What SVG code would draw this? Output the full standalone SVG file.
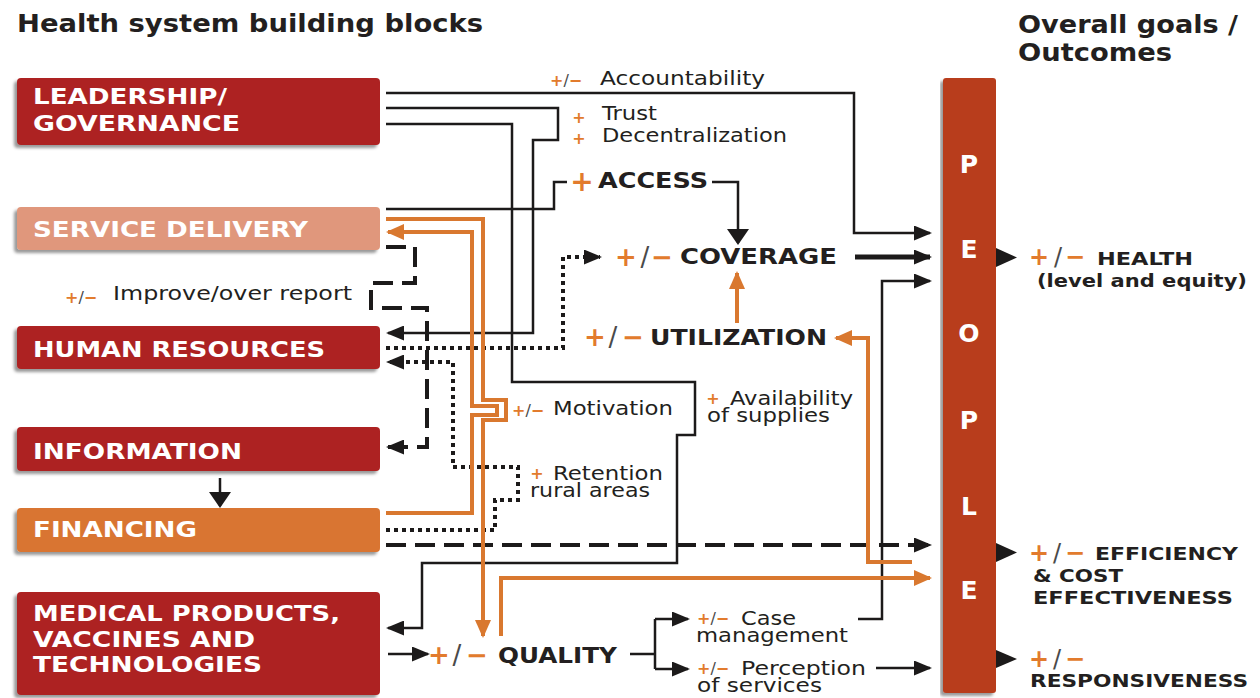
<svg xmlns="http://www.w3.org/2000/svg" width="1260" height="698" viewBox="0 0 1260 698">
<defs>
<style>
.t{font-family:'DejaVu Sans','Liberation Sans',sans-serif;fill:#231f20}
.h{font-size:24px;font-weight:bold}
.bl{font-size:22px;font-weight:bold;fill:#fff}
.pl{font-size:25px;font-weight:bold;fill:#fff}
.r{font-size:20px}
.b{font-size:22px;font-weight:bold}
.g{font-size:18px;font-weight:bold}
.o{fill:#e27b2d;font-weight:bold}
.s{fill:#4a4a4a;font-weight:normal}
.pms{font-size:16px}
.pmb{font-size:26px}
.ln{fill:none;stroke:#1c1a1a;stroke-width:2.5}
.thk{fill:none;stroke:#1c1a1a;stroke-width:5}
.da{fill:none;stroke:#1c1a1a;stroke-width:4;stroke-dasharray:20 9}
.dt{fill:none;stroke:#1c1a1a;stroke-width:4;stroke-dasharray:4 4}
.or{fill:none;stroke:#d9782f;stroke-width:4}
.red{fill:#ad2421}
</style>
<marker id="ab" viewBox="0 0 18 15" refX="16" refY="7.5" markerWidth="18" markerHeight="15" markerUnits="userSpaceOnUse" orient="auto"><path d="M0,0L18,7.5L0,15z" fill="#1c1a1a"/></marker>
<marker id="ab2" viewBox="0 0 16 22" refX="14" refY="11" markerWidth="16" markerHeight="22" markerUnits="userSpaceOnUse" orient="auto"><path d="M0,0L16,11L0,22z" fill="#1c1a1a"/></marker>
<marker id="ao" viewBox="0 0 18 16" refX="16" refY="8" markerWidth="18" markerHeight="16" markerUnits="userSpaceOnUse" orient="auto"><path d="M0,0L18,8L0,16z" fill="#d9782f"/></marker>
<filter id="sh" x="-5%" y="-15%" width="110%" height="135%"><feDropShadow dx="-3" dy="3" stdDeviation="1.5" flood-color="#000" flood-opacity="0.4"/></filter>
</defs>
<rect width="1260" height="698" fill="#fff"/>

<text class="t h" x="17" y="32" textLength="466" lengthAdjust="spacingAndGlyphs">Health system building blocks</text>
<text class="t h" x="1018" y="33" textLength="220" lengthAdjust="spacingAndGlyphs">Overall goals /</text>
<text class="t h" x="1018" y="61" textLength="154" lengthAdjust="spacingAndGlyphs">Outcomes</text>

<g id="connectors">
<path class="ln" d="M386,93H854V233H930" marker-end="url(#ab)"/>
<path class="ln" d="M386,108H558V140H533V333H388" marker-end="url(#ab)"/>
<path class="ln" d="M386,124H512V382H695V435H677V563H422V628H388" marker-end="url(#ab)"/>
<path class="ln" d="M386,209H554V182H567"/>
<path class="ln" d="M712,182H738V243" marker-end="url(#ab2)"/>
<path class="thk" d="M855,257H930" marker-end="url(#ab)"/>
<path class="ln" d="M858,619H882V281H930" marker-end="url(#ab)"/>
<path class="ln" d="M876,668H930" marker-end="url(#ab)"/>
<path class="ln" d="M388,654H428" marker-end="url(#ab)"/>
<path class="ln" d="M630,654H655M655,619V669"/>
<path class="ln" d="M655,619H688" marker-end="url(#ab)"/>
<path class="ln" d="M655,669H688" marker-end="url(#ab)"/>
<path class="ln" d="M220,478V506" marker-end="url(#ab2)"/>
<path class="da" d="M386,545H930" marker-end="url(#ab)"/>
<path class="da" d="M386,247H415V283H371V308H427V447H388" marker-end="url(#ab)"/>
<path class="dt" d="M386,348H563V257H600" marker-end="url(#ab)"/>
<path class="dt" d="M386,530H495V500H518V467H453V362H388" marker-end="url(#ab)"/>
<path class="or" d="M386,219H483V400H506V420H483V636" marker-end="url(#ao)"/>
<path class="or" d="M386,513H472V415H497V406H472V232H388" marker-end="url(#ao)"/>
<path class="or" d="M501,636V578H930" marker-end="url(#ao)"/>
<path class="or" d="M912,562H868V338H836" marker-end="url(#ao)"/>
<path class="or" d="M737,323V273" marker-end="url(#ao)"/>
<path d="M996,248L1017,257.5L996,267z" fill="#1c1a1a"/>
<path d="M996,543L1017,552.5L996,562z" fill="#1c1a1a"/>
<path d="M996,650L1017,659L996,668z" fill="#1c1a1a"/>
</g>

<g id="leadership">
<rect class="red" x="17" y="78" width="363" height="67" rx="4" filter="url(#sh)"/>
<text class="t bl" x="33" y="104" textLength="194" lengthAdjust="spacingAndGlyphs">LEADERSHIP/</text>
<text class="t bl" x="33" y="131" textLength="207" lengthAdjust="spacingAndGlyphs">GOVERNANCE</text>
</g>
<g id="service-delivery">
<rect x="17" y="207" width="363" height="43" rx="4" fill="#e0977b" filter="url(#sh)"/>
<text class="t bl" x="33" y="237" textLength="275" lengthAdjust="spacingAndGlyphs">SERVICE DELIVERY</text>
</g>
<g id="human-resources">
<rect class="red" x="17" y="326" width="363" height="43" rx="4" filter="url(#sh)"/>
<text class="t bl" x="33" y="357" textLength="292" lengthAdjust="spacingAndGlyphs">HUMAN RESOURCES</text>
</g>
<g id="information">
<rect class="red" x="17" y="427" width="363" height="44" rx="4" filter="url(#sh)"/>
<text class="t bl" x="33" y="459" textLength="209" lengthAdjust="spacingAndGlyphs">INFORMATION</text>
</g>
<g id="financing">
<rect x="17" y="508" width="363" height="44" rx="4" fill="#d97430" filter="url(#sh)"/>
<text class="t bl" x="33" y="537" textLength="164" lengthAdjust="spacingAndGlyphs">FINANCING</text>
</g>
<g id="medical-products">
<rect class="red" x="17" y="592" width="363" height="103" rx="4" filter="url(#sh)"/>
<text class="t bl" x="33" y="621" textLength="307" lengthAdjust="spacingAndGlyphs">MEDICAL PRODUCTS,</text>
<text class="t bl" x="33" y="647" textLength="222" lengthAdjust="spacingAndGlyphs">VACCINES AND</text>
<text class="t bl" x="33" y="672" textLength="229" lengthAdjust="spacingAndGlyphs">TECHNOLOGIES</text>
</g>
<g id="people">
<rect x="943" y="78" width="53" height="615" rx="3" fill="#b83d1f" filter="url(#sh)"/>
<text class="t pl" x="969" y="173" text-anchor="middle">P</text>
<text class="t pl" x="969" y="258" text-anchor="middle">E</text>
<text class="t pl" x="969" y="342" text-anchor="middle">O</text>
<text class="t pl" x="969" y="429" text-anchor="middle">P</text>
<text class="t pl" x="969" y="515" text-anchor="middle">L</text>
<text class="t pl" x="969" y="599" text-anchor="middle">E</text>
</g>

<g id="accountability">
<text class="t pms" x="550" y="86"><tspan class="o">+</tspan><tspan class="s">/</tspan><tspan class="o">−</tspan></text>
<text class="t r" x="600" y="85" textLength="165" lengthAdjust="spacingAndGlyphs">Accountability</text>
</g>
<g id="trust">
<text class="t pms o" x="579" y="123" text-anchor="middle">+</text>
<text class="t r" x="602" y="120" textLength="55" lengthAdjust="spacingAndGlyphs">Trust</text>
<text class="t pms o" x="579" y="144" text-anchor="middle">+</text>
<text class="t r" x="602" y="142" textLength="185" lengthAdjust="spacingAndGlyphs">Decentralization</text>
</g>
<g id="access">
<text class="t o" style="font-size:28px" x="582" y="191" text-anchor="middle">+</text>
<text class="t b" x="598" y="188" textLength="110" lengthAdjust="spacingAndGlyphs">ACCESS</text>
</g>
<g id="coverage">
<text class="t pmb" y="266"><tspan class="o" x="626" text-anchor="middle">+</tspan><tspan class="s" x="645" text-anchor="middle">/</tspan><tspan class="o" x="662" text-anchor="middle">−</tspan></text>
<text class="t b" x="680" y="264" textLength="157" lengthAdjust="spacingAndGlyphs">COVERAGE</text>
</g>
<g id="utilization">
<text class="t pmb" y="346"><tspan class="o" x="595" text-anchor="middle">+</tspan><tspan class="s" x="613" text-anchor="middle">/</tspan><tspan class="o" x="633" text-anchor="middle">−</tspan></text>
<text class="t b" x="650" y="345" textLength="177" lengthAdjust="spacingAndGlyphs">UTILIZATION</text>
</g>
<g id="quality">
<text class="t pmb" y="664"><tspan class="o" x="439" text-anchor="middle">+</tspan><tspan class="s" x="457" text-anchor="middle">/</tspan><tspan class="o" x="477" text-anchor="middle">−</tspan></text>
<text class="t b" x="498" y="663" textLength="119" lengthAdjust="spacingAndGlyphs">QUALITY</text>
</g>
<g id="improve">
<text class="t pms" x="65" y="303"><tspan class="o">+</tspan><tspan class="s">/</tspan><tspan class="o">−</tspan></text>
<text class="t r" x="113" y="300" textLength="239" lengthAdjust="spacingAndGlyphs">Improve/over report</text>
</g>
<g id="motivation">
<text class="t pms" x="512" y="416"><tspan class="o">+</tspan><tspan class="s">/</tspan><tspan class="o">−</tspan></text>
<text class="t r" x="553" y="415" textLength="120" lengthAdjust="spacingAndGlyphs">Motivation</text>
</g>
<g id="retention">
<text class="t pms o" x="537" y="479" text-anchor="middle">+</text>
<text class="t r" x="553" y="480" textLength="110" lengthAdjust="spacingAndGlyphs">Retention</text>
<text class="t r" x="530" y="497" textLength="120" lengthAdjust="spacingAndGlyphs">rural areas</text>
</g>
<g id="availability">
<text class="t pms o" x="713" y="404" text-anchor="middle">+</text>
<text class="t r" x="730" y="405" textLength="123" lengthAdjust="spacingAndGlyphs">Availability</text>
<text class="t r" x="707" y="422" textLength="123" lengthAdjust="spacingAndGlyphs">of supplies</text>
</g>
<g id="case-management">
<text class="t pms" x="697" y="624"><tspan class="o">+</tspan><tspan class="s">/</tspan><tspan class="o">−</tspan></text>
<text class="t r" x="741" y="625" textLength="55" lengthAdjust="spacingAndGlyphs">Case</text>
<text class="t r" x="696" y="642" textLength="152" lengthAdjust="spacingAndGlyphs">management</text>
</g>
<g id="perception">
<text class="t pms" x="697" y="674"><tspan class="o">+</tspan><tspan class="s">/</tspan><tspan class="o">−</tspan></text>
<text class="t r" x="741" y="675" textLength="125" lengthAdjust="spacingAndGlyphs">Perception</text>
<text class="t r" x="697" y="692" textLength="125" lengthAdjust="spacingAndGlyphs">of services</text>
</g>

<g id="health">
<text class="t" style="font-size:24px" y="265"><tspan class="o" x="1039" text-anchor="middle">+</tspan><tspan class="s" x="1058" text-anchor="middle">/</tspan><tspan class="o" x="1075" text-anchor="middle">−</tspan></text>
<text class="t g" x="1097" y="265" textLength="96" lengthAdjust="spacingAndGlyphs">HEALTH</text>
<text class="t g" x="1037" y="287" textLength="210" lengthAdjust="spacingAndGlyphs">(level and equity)</text>
</g>
<g id="efficiency">
<text class="t" style="font-size:24px" y="561"><tspan class="o" x="1039" text-anchor="middle">+</tspan><tspan class="s" x="1057" text-anchor="middle">/</tspan><tspan class="o" x="1075" text-anchor="middle">−</tspan></text>
<text class="t g" x="1095" y="560" textLength="143" lengthAdjust="spacingAndGlyphs">EFFICIENCY</text>
<text class="t g" x="1033" y="582" textLength="90" lengthAdjust="spacingAndGlyphs">&amp; COST</text>
<text class="t g" x="1033" y="604" textLength="200" lengthAdjust="spacingAndGlyphs">EFFECTIVENESS</text>
</g>
<g id="responsiveness">
<text class="t" style="font-size:24px" y="667"><tspan class="o" x="1039" text-anchor="middle">+</tspan><tspan class="s" x="1057" text-anchor="middle">/</tspan><tspan class="o" x="1075" text-anchor="middle">−</tspan></text>
<text class="t g" x="1030" y="687" textLength="218" lengthAdjust="spacingAndGlyphs">RESPONSIVENESS</text>
</g>
</svg>
